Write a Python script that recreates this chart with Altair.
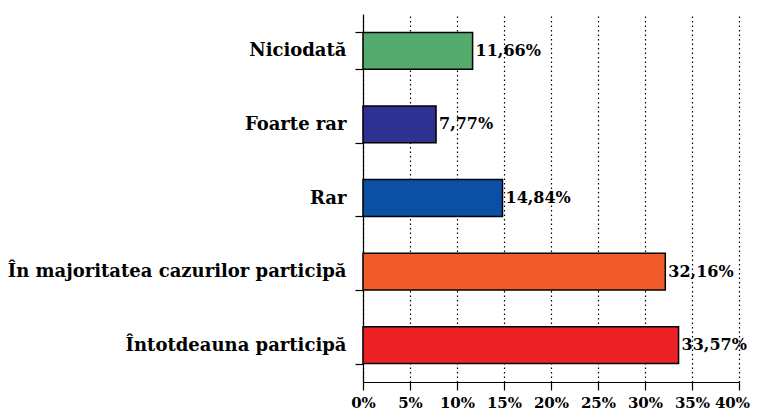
import altair as alt
import pandas as pd

categories = ["Niciodată", "Foarte rar", "Rar", "În majoritatea cazurilor participă", "Întotdeauna participă"]
values = [11.66, 7.77, 14.84, 32.16, 33.57]
labels = ["11,66%", "7,77%", "14,84%", "32,16%", "33,57%"]
colors = ["#55AB6E", "#2E3192", "#0C50A6", "#F15A29", "#EC2227"]
x_ticks = [0, 5, 10, 15, 20, 25, 30, 35, 40]

df = pd.DataFrame({"cat": categories, "val": values, "lab": labels, "col": colors})

FONT = "DejaVu Serif"

y_enc = alt.Y("cat:N", sort=categories, title=None,
              scale=alt.Scale(paddingInner=0.5, paddingOuter=0.25),
              axis=alt.Axis(tickBand="extent", tickSize=8, labelPadding=9,
                            labelFont=FONT, labelFontSize=18, labelFontWeight="bold",
                            labelColor="black", domainColor="black", tickColor="black",
                            domainWidth=1.2, tickWidth=1.2, grid=False, labelLimit=400))

x_enc = alt.X("val:Q", title=None,
              scale=alt.Scale(domain=[0, 40], nice=False),
              axis=alt.Axis(values=x_ticks,
                            labelExpr="datum.value + '%'",
                            labelFont=FONT, labelFontSize=15, labelFontWeight="bold",
                            labelColor="black", domainColor="black", tickColor="black",
                            domainWidth=1.2, tickWidth=1.2, tickSize=8, labelPadding=5,
                            grid=True, gridDash=[1.5, 3], gridColor="black", gridWidth=1.2,
                            labelFlush=False, labelOverlap=False,
                            labelOffset=alt.condition("datum.value == 40", alt.value(-7), alt.value(0))))

bars = alt.Chart(df).mark_bar(stroke="black", strokeWidth=1.5).encode(
    y=y_enc, x=x_enc,
    color=alt.Color("col:N", scale=None),
)

text = alt.Chart(df).mark_text(align="left", baseline="middle", dx=3,
                               font=FONT, fontSize=16, fontWeight="bold", color="black").encode(
    y=alt.Y("cat:N", sort=categories), x=alt.X("val:Q"), text="lab:N"
)

chart = (bars + text).properties(
    width=376, height=368,
    autosize=alt.AutoSizeParams(type="none"),
    padding={"left": 355, "top": 6, "right": 11, "bottom": 30},
).configure_view(stroke=None)

chart.save("out.html", embed_options={"renderer": "svg", "actions": False})
